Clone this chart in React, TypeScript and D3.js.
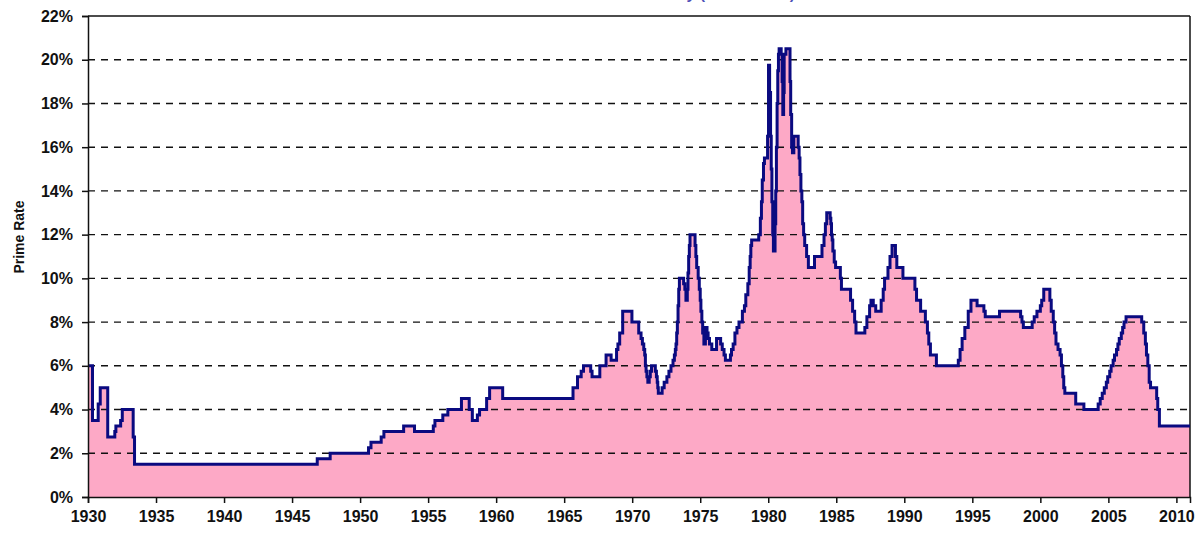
import React, { useRef, useEffect } from 'react';
import * as d3 from 'd3';

// Prime rate history: year where each new rate level starts, and the rate (%)
const changeYears: number[] = [
  1930.0, 1930.33, 1930.75, 1930.9, 1931.45, 1931.97, 1932.05, 1932.4, 1932.52, 1933.32,
  1933.42, 1946.85, 1947.8, 1950.62, 1950.8, 1951.55, 1951.75, 1953.2, 1954.0, 1955.38,
  1955.5, 1956.08, 1956.45, 1957.45, 1958.02, 1958.25, 1958.62, 1958.78, 1959.3, 1959.52,
  1960.48, 1965.65, 1965.98, 1966.25, 1966.42, 1966.95, 1967.05, 1967.62, 1968.08, 1968.45,
  1968.85, 1968.95, 1969.08, 1969.3, 1969.98, 1970.48, 1970.65, 1970.75, 1970.85, 1970.92,
  1970.97, 1971.02, 1971.08, 1971.15, 1971.25, 1971.33, 1971.42, 1971.7, 1971.78, 1971.84,
  1971.88, 1971.92, 1972.2, 1972.35, 1972.55, 1972.7, 1972.85, 1973.0, 1973.1, 1973.17,
  1973.22, 1973.27, 1973.32, 1973.37, 1973.42, 1973.47, 1973.78, 1973.87, 1973.95, 1974.05,
  1974.1, 1974.15, 1974.2, 1974.25, 1974.62, 1974.68, 1974.74, 1974.85, 1974.93, 1975.0,
  1975.05, 1975.12, 1975.18, 1975.27, 1975.38, 1975.5, 1975.58, 1975.68, 1975.85, 1976.2,
  1976.5, 1976.62, 1976.75, 1976.85, 1977.22, 1977.3, 1977.42, 1977.55, 1977.7, 1977.85,
  1978.1, 1978.25, 1978.35, 1978.5, 1978.6, 1978.67, 1978.72, 1978.78, 1979.3, 1979.42,
  1979.5, 1979.56, 1979.65, 1979.72, 1979.95, 1980.02, 1980.1, 1980.17, 1980.22, 1980.27,
  1980.33, 1980.38, 1980.5, 1980.55, 1980.6, 1980.65, 1980.7, 1980.75, 1980.8, 1980.95,
  1981.02, 1981.07, 1981.13, 1981.17, 1981.3, 1981.6, 1981.65, 1981.72, 1981.78, 1981.88,
  1982.2, 1982.27, 1982.33, 1982.4, 1982.47, 1982.53, 1982.6, 1982.68, 1982.82, 1982.95,
  1983.4, 1983.95, 1984.1, 1984.2, 1984.3, 1984.55, 1984.6, 1984.65, 1984.7, 1984.75,
  1984.85, 1984.95, 1985.3, 1985.38, 1986.05, 1986.2, 1986.35, 1986.45, 1987.1, 1987.25,
  1987.45, 1987.55, 1987.72, 1987.9, 1988.3, 1988.45, 1988.55, 1988.8, 1988.95, 1989.1,
  1989.35, 1989.45, 1989.9, 1990.78, 1990.9, 1991.2, 1991.55, 1991.7, 1991.8, 1991.92,
  1992.36, 1993.97, 1994.1, 1994.25, 1994.45, 1994.7, 1994.9, 1995.35, 1995.85, 1995.95,
  1997.0, 1998.55, 1998.65, 1998.75, 1999.4, 1999.55, 1999.75, 2000.0, 2000.1, 2000.25,
  2000.7, 2000.8, 2000.95, 2001.05, 2001.15, 2001.3, 2001.45, 2001.55, 2001.65, 2001.72,
  2001.8, 2002.6, 2003.2, 2004.25, 2004.4, 2004.55, 2004.7, 2004.85, 2004.95, 2005.1,
  2005.2, 2005.35, 2005.45, 2005.6, 2005.7, 2005.8, 2005.95, 2006.05, 2006.15, 2006.3,
  2007.45, 2007.6, 2007.72, 2007.8, 2007.9, 2008.0, 2008.1, 2008.55, 2008.63, 2008.75,
  2011.0,
];

const primeRates: number[] = [
  6, 3.5, 4.25, 5, 2.75, 3, 3.25, 3.5, 4, 2.75,
  1.5, 1.75, 2, 2.25, 2.5, 2.75, 3, 3.25, 3, 3.25,
  3.5, 3.75, 4, 4.5, 4, 3.5, 3.75, 4, 4.5, 5,
  4.5, 5, 5.5, 5.75, 6, 5.75, 5.5, 6, 6.5, 6.25,
  6.75, 7, 7.5, 8.5, 8, 7.5, 7.25, 7, 6.75, 6.5,
  6, 5.75, 5.5, 5.25, 5.5, 5.75, 6, 5.75, 5.5, 5.25,
  5, 4.75, 5, 5.25, 5.5, 5.75, 6, 6.25, 6.5, 6.75,
  7, 7.5, 8, 8.75, 9.5, 10, 9.75, 9.5, 9, 9.5,
  10.25, 11, 11.5, 12, 11.5, 11, 10.5, 10, 9.5, 9,
  8.5, 8, 7.5, 7, 7.75, 7.5, 7.25, 7, 6.75, 7.25,
  7, 6.75, 6.5, 6.25, 6.5, 6.75, 7, 7.5, 7.75, 8,
  8.5, 8.75, 9.25, 9.75, 10.5, 11, 11.5, 11.75, 12, 12.75,
  13.5, 14.5, 15.25, 15.5, 16.5, 19.75, 18.5, 16.5, 15, 13.5,
  12, 11.25, 12.5, 14, 16, 18, 19.5, 20.25, 20.5, 20.25,
  19, 17.5, 18.5, 20.25, 20.5, 19, 17.5, 16, 15.75, 16.5,
  16, 15.5, 14.75, 14, 13.5, 12.5, 12, 11.5, 11, 10.5,
  11, 11.5, 12, 12.5, 13, 12.75, 12.5, 12, 11.75, 11.25,
  10.75, 10.5, 10, 9.5, 9, 8.5, 8, 7.5, 7.75, 8.25,
  8.75, 9, 8.75, 8.5, 9, 9.5, 10, 10.5, 11, 11.5,
  11, 10.5, 10, 9.5, 9, 8.5, 8, 7.5, 7, 6.5,
  6, 6.25, 6.75, 7.25, 7.75, 8.5, 9, 8.75, 8.5, 8.25,
  8.5, 8.25, 8, 7.75, 8, 8.25, 8.5, 8.75, 9, 9.5,
  9, 8.5, 8, 7.5, 7, 6.75, 6.5, 6, 5.5, 5,
  4.75, 4.25, 4, 4.25, 4.5, 4.75, 5, 5.25, 5.5, 5.75,
  6, 6.25, 6.5, 6.75, 7, 7.25, 7.5, 7.75, 8, 8.25,
  8, 7.5, 7, 6.5, 6, 5.25, 5, 4.5, 4, 3.25,
  3.25,
];

const yTicks: number[] = [0, 2, 4, 6, 8, 10, 12, 14, 16, 18, 20, 22];
const xTicks: number[] = [1930, 1935, 1940, 1945, 1950, 1955, 1960, 1965, 1970, 1975, 1980, 1985, 1990, 1995, 2000, 2005, 2010];

const App: React.FC = () => {
  const svgRef = useRef<SVGSVGElement>(null);

  useEffect(() => {
    if (!svgRef.current) return;
    document.body.style.margin = '0';

    const svg = d3.select(svgRef.current);
    svg.selectAll('*').remove();

    const left = 88, right = 1190, top = 16, bottom = 497;
    const font = "'Liberation Sans', Arial, sans-serif";

    const x = d3.scaleLinear().domain([1930, 2011]).range([left, right]);
    const y = d3.scaleLinear().domain([0, 22]).range([bottom, top]);

    const data = changeYears.map((yr, i) => ({ year: yr, rate: primeRates[i] }));

    // title, mostly outside the picture (only its lower edge shows)
    svg.append('text')
      .attr('x', 795)
      .attr('y', -1)
      .attr('text-anchor', 'end')
      .attr('font-family', font)
      .attr('font-size', '16px')
      .attr('font-weight', 'bold')
      .attr('fill', '#000099')
      .attr('fill-opacity', 0.7)
      .text('Prime Rate History (1930 - 2011)');

    // pink area
    const area = d3.area<{ year: number; rate: number }>()
      .x(d => x(d.year))
      .y0(y(0))
      .y1(d => y(d.rate))
      .curve(d3.curveStepAfter);

    svg.append('path')
      .datum(data)
      .attr('d', area)
      .attr('fill', '#FDA9C6');

    // dashed grid lines
    svg.append('g')
      .selectAll('line')
      .data(yTicks.filter(t => t > 0 && t < 22))
      .enter()
      .append('line')
      .attr('x1', left)
      .attr('x2', right)
      .attr('y1', d => y(d))
      .attr('y2', d => y(d))
      .attr('stroke', '#111')
      .attr('stroke-width', 1.4)
      .attr('stroke-dasharray', '7,6');

    // frame: top and right borders
    svg.append('line')
      .attr('x1', left).attr('x2', right)
      .attr('y1', top).attr('y2', top)
      .attr('stroke', '#111').attr('stroke-width', 1.5);
    svg.append('line')
      .attr('x1', right).attr('x2', right)
      .attr('y1', top).attr('y2', bottom)
      .attr('stroke', '#111').attr('stroke-width', 1.5);

    // the rate line
    const line = d3.line<{ year: number; rate: number }>()
      .x(d => x(d.year))
      .y(d => y(d.rate))
      .curve(d3.curveStepAfter);

    svg.append('path')
      .datum(data)
      .attr('d', line)
      .attr('fill', 'none')
      .attr('stroke', '#0A0A80')
      .attr('stroke-width', 3)
      .attr('stroke-linejoin', 'miter');

    // y axis
    const yAxis = d3.axisLeft(y)
      .tickValues(yTicks)
      .tickSize(6)
      .tickPadding(9)
      .tickFormat(d => `${d}%`);

    const gy = svg.append('g')
      .attr('transform', `translate(${left},0)`)
      .call(yAxis);
    gy.select('.domain').attr('stroke', '#111').attr('stroke-width', 1.5);
    gy.selectAll('.tick line').attr('stroke', '#111').attr('stroke-width', 1.5);
    gy.selectAll('.tick text')
      .attr('font-family', font)
      .attr('font-size', '16px')
      .attr('font-weight', 'bold')
      .attr('fill', '#111');

    // x axis
    const xAxis = d3.axisBottom(x)
      .tickValues(xTicks)
      .tickSize(6)
      .tickPadding(8)
      .tickFormat(d => `${d}`);

    const gx = svg.append('g')
      .attr('transform', `translate(0,${bottom})`)
      .call(xAxis);
    gx.select('.domain').attr('stroke', '#111').attr('stroke-width', 1.5);
    gx.selectAll('.tick line').attr('stroke', '#111').attr('stroke-width', 1.5);
    gx.selectAll('.tick text')
      .attr('font-family', font)
      .attr('font-size', '16px')
      .attr('font-weight', 'bold')
      .attr('fill', '#111');

    // y axis title
    svg.append('text')
      .attr('transform', 'rotate(-90)')
      .attr('x', -237)
      .attr('y', 24)
      .attr('text-anchor', 'middle')
      .attr('font-family', font)
      .attr('font-size', '14px')
      .attr('font-weight', 'bold')
      .attr('fill', '#111')
      .text('Prime Rate');
  }, []);

  return (
    <svg
      ref={svgRef}
      width={1199}
      height={533}
      style={{ position: 'absolute', left: 0, top: 0, background: '#fff' }}
    />
  );
};

export default App;
